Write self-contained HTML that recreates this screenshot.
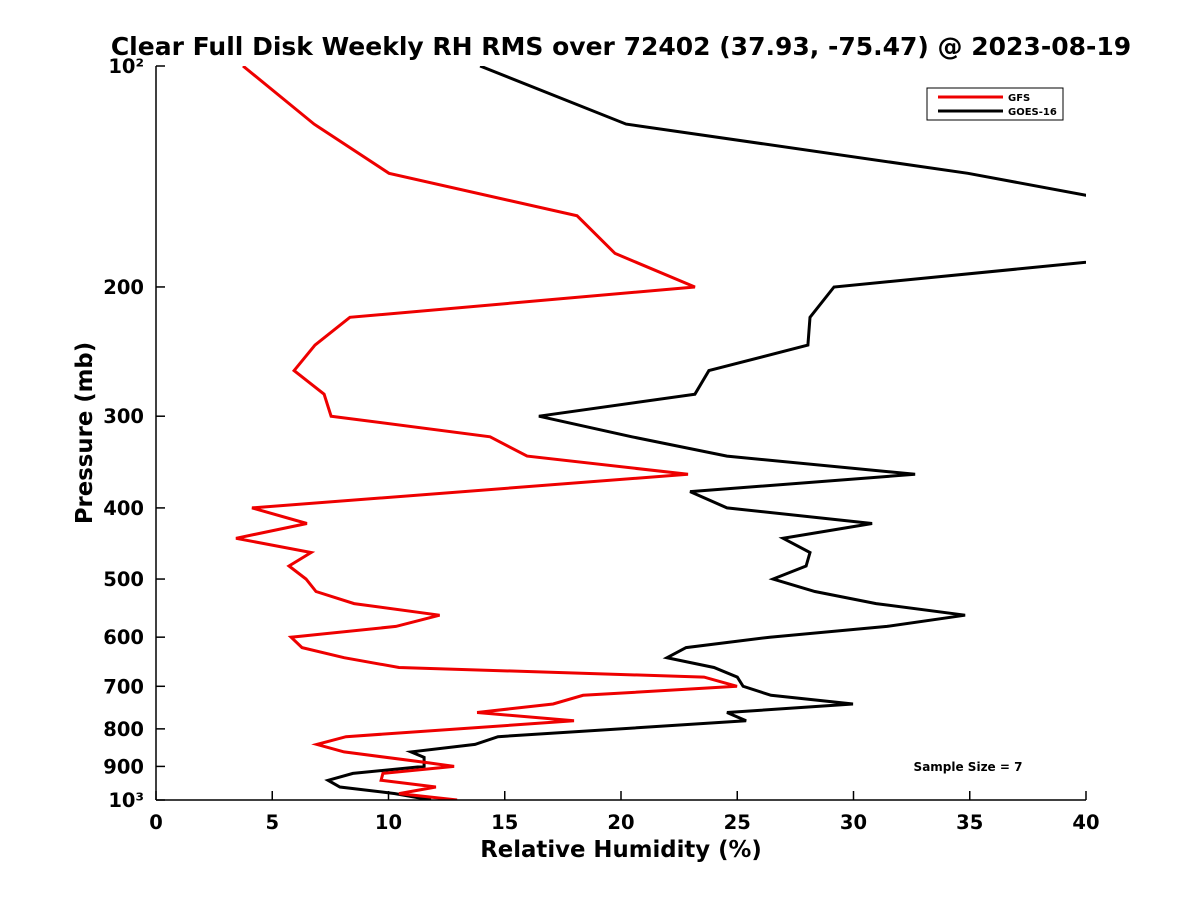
<!DOCTYPE html>
<html><head><meta charset="utf-8"><style>
body{margin:0;background:#fff}
svg text{font-family:"DejaVu Sans","Liberation Sans",sans-serif;font-weight:bold;fill:#000}
</style></head><body>
<svg id="chart" width="1200" height="900" xmlns="http://www.w3.org/2000/svg">
<defs><clipPath id="plotclip"><rect x="156" y="66" width="930" height="734"/></clipPath></defs>
<rect width="1200" height="900" fill="#fff"/>
<text x="621" y="55" font-size="25" text-anchor="middle">Clear Full Disk Weekly RH RMS over 72402 (37.93, -75.47) @ 2023-08-19</text>
<g id="series" clip-path="url(#plotclip)"></g>
<line x1="156" y1="66" x2="156" y2="800" stroke="#000" stroke-width="1.5"/>
<line x1="156" y1="800" x2="1086" y2="800" stroke="#000" stroke-width="1.5"/>
<g id="ticks"></g>
<text x="621" y="857" font-size="22.8" text-anchor="middle">Relative Humidity (%)</text>
<text transform="translate(92,433) rotate(-90)" font-size="22.8" text-anchor="middle">Pressure (mb)</text>
<g>
<rect x="927" y="88" width="136" height="32" fill="#fff" stroke="#000" stroke-width="1"/>
<line x1="938" y1="97" x2="1003" y2="97" stroke="#e00" stroke-width="3"/>
<text x="1008" y="101" font-size="10">GFS</text>
<line x1="938" y1="111" x2="1003" y2="111" stroke="#000" stroke-width="3"/>
<text x="1008" y="115" font-size="10">GOES-16</text>
</g>
<text x="968" y="771" font-size="12" text-anchor="middle">Sample Size = 7</text>
</svg>
<script>
const gfsPressure=[100,120,140,160,180,200,220,240,260,280,300,320,340,360,400,420,440,460,480,500,520,540,560,580,600,620,640,660,680,700,720,740,760,780,820,840,860,890,900,920,940,960,980,1000];
const gfsRH=[3.74,6.80,10.02,18.11,19.74,23.18,8.34,6.84,5.94,7.23,7.53,14.37,15.96,22.88,4.13,6.49,3.44,6.67,5.72,6.45,6.88,8.52,12.2,10.32,5.81,6.28,8.09,10.45,23.57,24.99,18.37,17.08,13.81,17.98,8.17,6.92,8.09,11.74,12.82,9.76,9.68,12.04,10.45,12.95];
const goesPressure=[100,120,140,150,160,180,200,220,240,260,280,300,320,340,360,380,400,420,440,460,480,500,520,540,560,580,600,620,640,660,680,700,720,740,760,780,820,840,860,875,900,920,940,960,980,1000];
const goesRH=[13.94,20.22,34.92,40.0,44.8,43.9,29.16,28.13,28.04,23.78,23.18,16.47,20.47,24.56,32.65,22.97,24.56,30.80,26.97,28.13,27.96,26.54,28.34,30.97,34.80,31.44,26.40,22.80,21.98,24.0,25.0,25.25,26.45,29.98,24.56,25.38,14.71,13.72,10.97,11.53,11.53,8.47,7.40,7.91,10.28,11.83];
const xTicks=[0,5,10,15,20,25,30,35,40];
const yTicks=[100,200,300,400,500,600,700,800,900,1000];
const yTickLabels=["10²","200","300","400","500","600","700","800","900","10³"];

const NS="http://www.w3.org/2000/svg";
const X0=156,X1=1086,Y0=66,Y1=800;
function xs(v){return X0+(v-0)/40*(X1-X0);}
function ys(p){return Y0+(Math.log10(p)-2)*(Y1-Y0);}
const sg=document.getElementById('series');
function drawLine(ps,vs,color,name){
  const pl=document.createElementNS(NS,'polyline');
  pl.setAttribute('points',ps.map((p,i)=>xs(vs[i]).toFixed(1)+','+ys(p).toFixed(1)).join(' '));
  pl.setAttribute('fill','none');pl.setAttribute('stroke',color);pl.setAttribute('stroke-width','3');
  
  
  sg.appendChild(pl);
}
drawLine(goesPressure,goesRH,'#000','goes16-line');
drawLine(gfsPressure,gfsRH,'#e00','gfs-line');
const tg=document.getElementById('ticks');
xTicks.forEach(v=>{
  const l=document.createElementNS(NS,'line');
  l.setAttribute('x1',xs(v));l.setAttribute('x2',xs(v));l.setAttribute('y1',Y1);l.setAttribute('y2',Y1-9);
  l.setAttribute('stroke','#000');l.setAttribute('stroke-width','1.5');
  
  
  tg.appendChild(l);
  const t=document.createElementNS(NS,'text');
  t.setAttribute('x',xs(v));t.setAttribute('y',829);t.setAttribute('font-size','19.5');t.setAttribute('text-anchor','middle');
  t.textContent=v;
  
  
  tg.appendChild(t);
});
yTicks.forEach((p,i)=>{
  const l=document.createElementNS(NS,'line');
  l.setAttribute('x1',X0);l.setAttribute('x2',X0+9);l.setAttribute('y1',ys(p));l.setAttribute('y2',ys(p));
  l.setAttribute('stroke','#000');l.setAttribute('stroke-width','1.5');
  
  
  tg.appendChild(l);
  const t=document.createElementNS(NS,'text');
  t.setAttribute('x',X0-12);t.setAttribute('y',ys(p)+7);t.setAttribute('font-size','19.5');t.setAttribute('text-anchor','end');
  t.textContent=yTickLabels[i];
  
  
  tg.appendChild(t);
});
</script>
</body></html>
